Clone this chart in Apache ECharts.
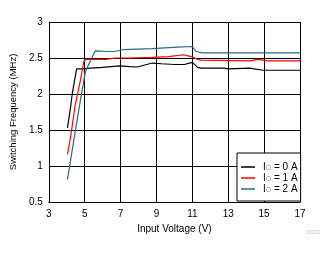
<!DOCTYPE html>
<html>
<head>
<meta charset="utf-8">
<script src="https://cdn.jsdelivr.net/npm/echarts@6/dist/echarts.min.js"></script>
<style>
  html, body { margin: 0; padding: 0; background: #fff; }
  #chart { width: 333px; height: 254px; }
</style>
</head>
<body>
<div id="chart"></div>
<script>
// series names
var seriesNames = ['IO = 0 A', 'IO = 1 A', 'IO = 2 A'];
var seriesColors = ['#000000', '#ff0000', '#2b6a80'];

// IO = 0 A
var vin0  = [4.04, 4.22, 4.31, 4.55, 5.0, 5.3, 6.0, 6.95, 7.5, 7.94, 8.76, 9.3, 10.0, 10.55, 11.0, 11.3, 11.48, 12.75, 13.0, 14.2, 14.93, 17];
var freq0 = [1.53, 1.83, 2.01, 2.35, 2.35, 2.36, 2.37, 2.39, 2.38, 2.375, 2.43, 2.42, 2.41, 2.41, 2.44, 2.37, 2.36, 2.36, 2.35, 2.36, 2.33, 2.33];

// IO = 1 A
var vin1  = [4.04, 4.22, 4.46, 4.77, 4.95, 5.04, 6.2, 6.7, 7.5, 8.76, 9.67, 10.5, 10.94, 11.3, 11.48, 14.2, 14.66, 15.2, 17];
var freq1 = [1.16, 1.41, 1.83, 2.2, 2.45, 2.48, 2.48, 2.5, 2.5, 2.51, 2.52, 2.545, 2.52, 2.48, 2.47, 2.46, 2.48, 2.46, 2.46];

// IO = 2 A
var vin2  = [4.04, 4.46, 4.8, 5.04, 5.35, 5.59, 6.3, 6.67, 7.13, 8.76, 9.48, 10.2, 11.0, 11.2, 11.57, 17];
var freq2 = [0.81, 1.46, 1.97, 2.31, 2.48, 2.6, 2.59, 2.59, 2.615, 2.63, 2.64, 2.65, 2.66, 2.59, 2.57, 2.57];

var xTicks = { min: 3, max: 17, step: 2 };
var yTicks = { min: 0.5, max: 3, step: 0.5 };

function pairs(xs, ys) {
    var out = [];
    for (var i = 0; i < xs.length; i++) {
        out.push([xs[i], ys[i]]);
    }
    return out;
}

var chart = echarts.init(document.getElementById('chart'), null, { renderer: 'canvas' });
var font = 'Liberation Sans, Arial, sans-serif';
var allX = [vin0, vin1, vin2];
var allY = [freq0, freq1, freq2];

var series = [];
for (var k = 0; k < 3; k++) {
    series.push({
        name: seriesNames[k],
        type: 'line',
        data: pairs(allX[k], allY[k]),
        symbol: 'none',
        lineStyle: { color: seriesColors[k], width: 1.2 },
        itemStyle: { color: seriesColors[k] },
        animation: false,
        z: 3
    });
}

option = {
    animation: false,
    textStyle: { fontFamily: font },
    grid: { left: 45, top: 22, width: 255, height: 180 },
    xAxis: {
        type: 'value',
        min: xTicks.min, max: xTicks.max, interval: xTicks.step,
        name: 'Input Voltage (V)',
        nameLocation: 'middle',
        nameGap: 19,
        nameTextStyle: { color: '#000', fontSize: 10, fontFamily: font },
        axisLine: { lineStyle: { color: '#000', width: 1 } },
        axisTick: { show: false },
        axisLabel: { color: '#000', fontSize: 10, margin: 7, fontFamily: font },
        splitLine: { show: true, lineStyle: { color: '#000', width: 1 } }
    },
    yAxis: {
        type: 'value',
        min: yTicks.min, max: yTicks.max, interval: yTicks.step,
        name: 'Switching Frequency (MHz)',
        nameLocation: 'middle',
        nameGap: 28,
        nameTextStyle: { color: '#000', fontSize: 9.5, fontFamily: font },
        axisLine: { show: true, lineStyle: { color: '#000', width: 1 } },
        axisTick: { show: false },
        axisLabel: { color: '#000', fontSize: 10, margin: 6, fontFamily: font },
        splitLine: { show: true, lineStyle: { color: '#000', width: 1 } }
    },
    legend: {
        orient: 'vertical',
        left: 237,
        top: 153,
        width: 63,
        padding: [9, 3, 7, 4],
        itemGap: 1,
        itemWidth: 14,
        itemHeight: 1.5,
        icon: 'rect',
        backgroundColor: '#fff',
        borderColor: '#000',
        borderWidth: 1,
        data: seriesNames,
        formatter: function (name) {
            var rest = name.slice(2);
            return '{f|I}{s|O}{i|' + rest + '}';
        },
        textStyle: {
            fontFamily: font,
            rich: {
                f: { fontSize: 10, color: '#000', lineHeight: 10, padding: [0, 0, 0, 3], fontFamily: font },
                i: { fontSize: 10, color: '#000', lineHeight: 10, fontFamily: font },
                s: { fontSize: 7, color: '#999', lineHeight: 10, verticalAlign: 'bottom', padding: [3, 0, 0, 0], fontFamily: font }
            }
        }
    },
    graphic: [{
        type: 'text',
        left: 306,
        top: 229,
        style: { text: 'D003', fontSize: 6, fill: '#c8c8c8', fontFamily: font }
    }],
    series: series
};

chart.setOption(option);
</script>
</body>
</html>
